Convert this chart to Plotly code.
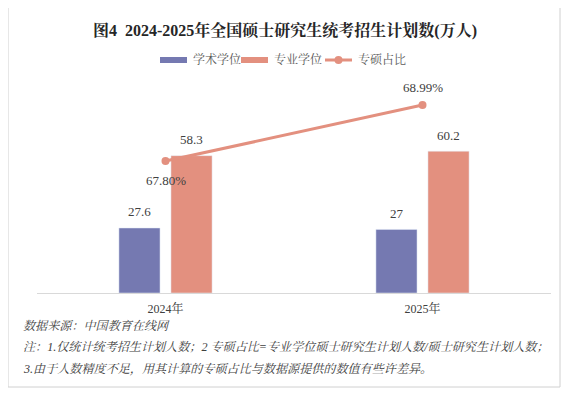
import plotly.graph_objects as go

categories = ["2024年", "2025年"]
academic = [27.6, 27]
professional = [58.3, 60.2]
share_pct = [67.80, 68.99]
share_labels = ["67.80%", "68.99%"]

title_text = "<b>图4  2024-2025年全国硕士研究生统考招生计划数(万人)</b>"
legend_names = ["学术学位", "专业学位", "专硕占比"]
notes = [
    "数据来源：中国教育在线网",
    "注：1.仅统计统考招生计划人数；2 专硕占比=专业学位硕士研究生计划人数/硕士研究生计划人数；",
    "3.由于人数精度不足，用其计算的专硕占比与数据源提供的数值有些许差异。",
]

C_ACAD = "#7579B1"
C_PROF = "#E3907F"
FONT = "Liberation Serif, Times New Roman, Noto Serif CJK SC, Noto Sans CJK SC, serif"
TXT = "#404040"

OFF = 8  # page body margin
W_, H_ = 569 - OFF, 395 - OFF
L, R, T, B = 37, 551, 81, 293
PW, PH = R - L, B - T


def px(x):
    return (x - L) / PW


def py(y):
    return (B - y) / PH


fig = go.Figure()
fig.add_trace(go.Bar(name=legend_names[0], x=categories, y=academic, marker_color=C_ACAD,
                     showlegend=False))
fig.add_trace(go.Bar(name=legend_names[1], x=categories, y=professional, marker_color=C_PROF,
                     showlegend=False))
fig.add_trace(go.Scatter(name=legend_names[2], x=categories, y=share_pct, yaxis="y2",
                         mode="lines+markers", line=dict(color=C_PROF, width=3),
                         marker=dict(size=8, color=C_PROF), showlegend=False))

annotations = []
for i, c in enumerate(categories):
    annotations.append(dict(x=c, y=academic[i], xref="x", yref="y", text=f"{academic[i]:g}",
                            showarrow=False, xshift=-26, yshift=16,
                            font=dict(family=FONT, size=13, color=TXT)))
    annotations.append(dict(x=c, y=professional[i], xref="x", yref="y", text=f"{professional[i]:g}",
                            showarrow=False, xshift=26, yshift=16,
                            font=dict(family=FONT, size=13, color=TXT)))
shifts = [-19, 18]
for i, c in enumerate(categories):
    annotations.append(dict(x=c, y=share_pct[i], xref="x", yref="y2", text=share_labels[i],
                            showarrow=False, yshift=shifts[i],
                            font=dict(family=FONT, size=13, color=TXT)))

annotations.append(dict(x=px(285), y=py(30), xref="paper", yref="paper", text=title_text,
                        xanchor="center", yanchor="middle",
                        showarrow=False, font=dict(family=FONT, size=16, color="#262626")))

shapes = []
leg = [(160, 187, C_ACAD, "rect"), (241, 268, C_PROF, "rect"), (325, 352, C_PROF, "line")]
leg_text_x = [191, 272, 356]
for (x0, x1, col, kind), tx, name in zip(leg, leg_text_x, legend_names):
    if kind == "rect":
        shapes.append(dict(type="rect", xref="paper", yref="paper", x0=px(x0), x1=px(x1),
                           y0=py(63), y1=py(57), fillcolor=col, line=dict(width=0)))
    else:
        shapes.append(dict(type="line", xref="paper", yref="paper", x0=px(x0), x1=px(x1),
                           y0=py(60), y1=py(60), line=dict(color=col, width=3)))
        cx = (x0 + x1) / 2
        shapes.append(dict(type="circle", xref="paper", yref="paper", x0=px(cx - 4), x1=px(cx + 4),
                           y0=py(64), y1=py(56), fillcolor=col, line=dict(width=0)))
    annotations.append(dict(x=px(tx), y=py(60), xref="paper", yref="paper", text=name,
                            xanchor="left", yanchor="middle", showarrow=False,
                            font=dict(family=FONT, size=12, color="#595959")))

for ny, t in zip([326, 347, 369], notes):
    annotations.append(dict(x=px(21), y=py(ny), xref="paper", yref="paper", text=f"<i>{t}</i>",
                            xanchor="left", yanchor="middle", showarrow=False,
                            font=dict(family=FONT, size=12.1, color=TXT)))

shapes.append(dict(type="rect", xref="paper", yref="paper", x0=px(8), x1=px(560),
                   y0=py(387), y1=py(7), line=dict(color="#D0D0D0", width=1),
                   fillcolor="rgba(0,0,0,0)", layer="below"))

fig.update_layout(
    width=W_, height=H_,
    margin=dict(l=L - OFF, r=569 - R, t=T - OFF, b=395 - B),
    paper_bgcolor="white", plot_bgcolor="white",
    barmode="group", bargap=0.595, bargroupgap=0.21,
    showlegend=False,
    xaxis=dict(showline=True, linecolor="#D9D9D9", linewidth=1, ticks="",
               ticklabelstandoff=5,
               tickfont=dict(family=FONT, size=12, color=TXT), showgrid=False),
    yaxis=dict(range=[0, 90], visible=False, showgrid=False),
    yaxis2=dict(range=[65, 69.5], overlaying="y", side="right", visible=False, showgrid=False),
    annotations=annotations, shapes=shapes,
)

fig.write_html("out.html")
